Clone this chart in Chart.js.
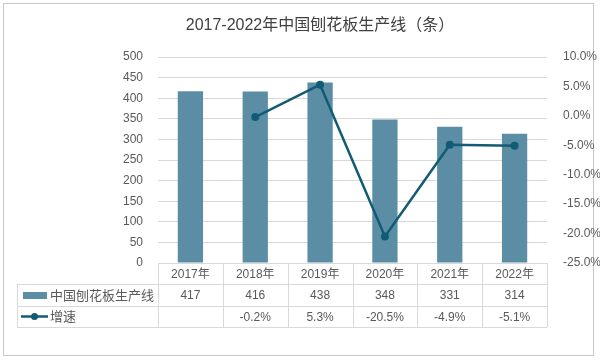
<!DOCTYPE html>
<html>
<head>
<meta charset="utf-8">
<script src="https://cdn.jsdelivr.net/npm/chart.js@4/dist/chart.umd.min.js"></script>
<style>
  html, body { margin: 0; padding: 0; background: #fff; }
  #wrap { width: 600px; height: 360px; }
</style>
</head>
<body>
<div id="wrap"><canvas id="myChart" width="600" height="360"></canvas></div>
<script>
const years = ["2017年", "2018年", "2019年", "2020年", "2021年", "2022年"];
const lines = [417, 416, 438, 348, 331, 314];
const growth = [null, -0.2, 5.3, -20.5, -4.9, -5.1];
const titleText = "2017-2022年中国刨花板生产线（条）";
const barName = "中国刨花板生产线";
const lineName = "增速";

const barColor = 'rgb(91, 142, 165)';
const lineColor = 'rgb(18, 91, 117)';
const textColor = '#595959';
const gridColor = '#d9d9d9';
const FONT = '"Liberation Sans", "Noto Sans CJK SC", sans-serif';

// title, outer frame and the data table under the plot
const tablePlugin = {
  id: 'tablePlugin',
  beforeDraw (chart) {
    const ctx = chart.ctx;
    ctx.save();
    ctx.fillStyle = '#fff';
    ctx.fillRect(0, 0, chart.width, chart.height);
    ctx.strokeStyle = '#c8c8c8';
    ctx.lineWidth = 1;
    ctx.strokeRect(3.5, 3.5, 590, 352);
    ctx.restore();
  },
  afterDraw (chart) {
    const ctx = chart.ctx;
    const area = chart.chartArea;
    const xs = chart.scales.x;
    const n = years.length;
    const colW = (area.right - area.left) / n;
    const top = area.bottom;
    const r1 = top + 21, r2 = r1 + 22, r3 = r2 + 21;
    const tableLeft = 17;

    ctx.save();
    // title
    ctx.fillStyle = '#404040';
    ctx.font = '16px ' + FONT;
    ctx.textAlign = 'center';
    ctx.textBaseline = 'middle';
    ctx.fillText(titleText, 320, 26);

    // grid of the table
    ctx.strokeStyle = gridColor;
    ctx.lineWidth = 1;
    ctx.beginPath();
    ctx.moveTo(area.left, top + 0.5); ctx.lineTo(area.right, top + 0.5);
    [r1, r2, r3].forEach(y => { ctx.moveTo(tableLeft, y + 0.5); ctx.lineTo(area.right, y + 0.5); });
    for (let i = 0; i <= n; i++) {
      const x = Math.round(area.left + i * colW) + 0.5;
      ctx.moveTo(x, top); ctx.lineTo(x, r3);
    }
    ctx.moveTo(tableLeft + 0.5, r1); ctx.lineTo(tableLeft + 0.5, r3);
    ctx.stroke();

    // cells
    ctx.fillStyle = textColor;
    ctx.font = '12px ' + FONT;
    for (let i = 0; i < n; i++) {
      const x = xs.getPixelForValue(i);
      ctx.fillText(years[i], x, (top + r1) / 2 + 1);
      ctx.fillText(String(lines[i]), x, (r1 + r2) / 2 + 1);
      if (growth[i] !== null) ctx.fillText(growth[i].toFixed(1) + '%', x, (r2 + r3) / 2 + 1);
    }

    // legend keys
    const y1 = (r1 + r2) / 2, y2 = (r2 + r3) / 2;
    ctx.fillStyle = barColor;
    ctx.fillRect(23, y1 - 3, 24, 7);
    ctx.strokeStyle = lineColor;
    ctx.lineWidth = 2.5;
    ctx.beginPath(); ctx.moveTo(21, y2); ctx.lineTo(48, y2); ctx.stroke();
    ctx.fillStyle = lineColor;
    ctx.beginPath(); ctx.arc(34.5, y2, 3.5, 0, Math.PI * 2); ctx.fill();

    ctx.fillStyle = textColor;
    ctx.font = '13px ' + FONT;
    ctx.textAlign = 'left';
    ctx.fillText(barName, 50, y1 + 1);
    ctx.fillText(lineName, 50, y2 + 1);
    ctx.restore();
  }
};

var ctx = document.getElementById('myChart').getContext('2d');

var myChart = new Chart(ctx, {
  data: {
    labels: years,
    datasets: [
      {
        type: 'line',
        label: lineName,
        data: growth,
        yAxisID: 'y1',
        borderColor: lineColor,
        backgroundColor: lineColor,
        borderWidth: 2.5,
        pointRadius: 4,
        pointBackgroundColor: lineColor,
        pointBorderWidth: 0,
        order: 0
      },
      {
        type: 'bar',
        label: barName,
        data: lines,
        yAxisID: 'y',
        backgroundColor: barColor,
        categoryPercentage: 1,
        barPercentage: 0.39,
        order: 1
      }
    ]
  },
  options: {
    responsive: false,
    animation: false,
    layout: {
      padding: { left: 0, right: 0, top: 57, bottom: 97 }
    },
    plugins: {
      legend: { display: false },
      title: { display: false },
      tooltip: { enabled: false }
    },
    scales: {
      x: { display: false, offset: true },
      y: {
        position: 'left',
        min: 0,
        max: 500,
        ticks: { stepSize: 50, color: textColor, font: { size: 12, family: FONT }, padding: 15 },
        grid: { color: gridColor, drawTicks: false },
        border: { display: false },
        afterFit (s) { s.width = 158; }
      },
      y1: {
        position: 'right',
        min: -25,
        max: 10,
        ticks: {
          stepSize: 5,
          color: textColor,
          font: { size: 12, family: FONT },
          padding: 8,
          callback: v => v.toFixed(1) + '%'
        },
        grid: { display: false },
        border: { display: false },
        afterFit (s) { s.width = 53; }
      }
    }
  },
  plugins: [tablePlugin]
});
</script>
</body>
</html>
